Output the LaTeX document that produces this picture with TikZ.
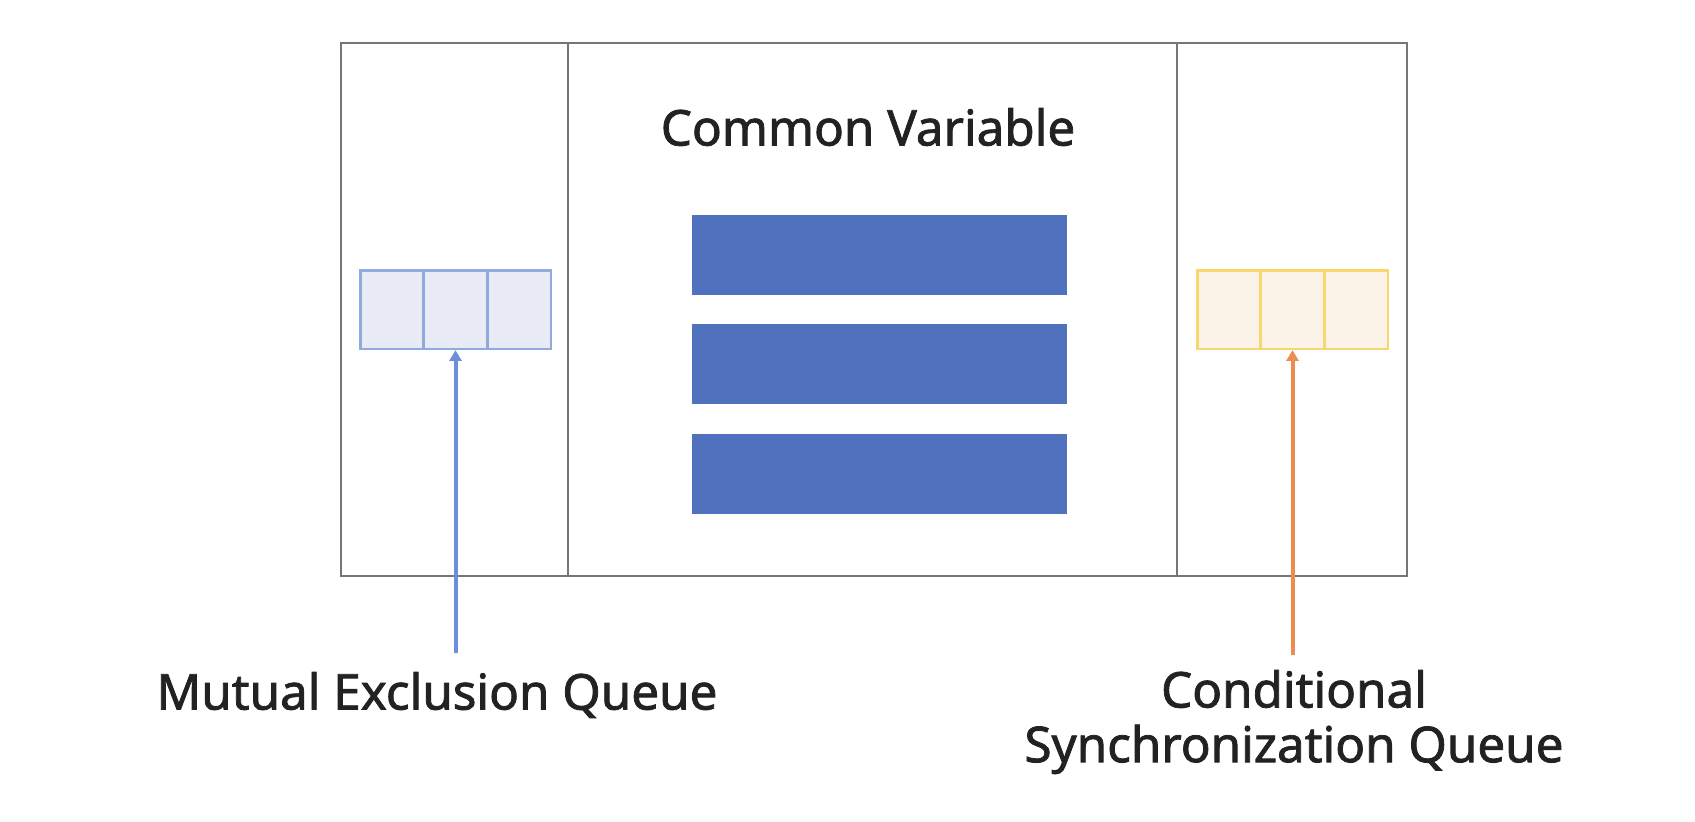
\documentclass[tikz,border=0pt]{standalone}
\usepackage{fontspec}
\setmainfont{Noto Sans}
\newfontfamily\labelfont[FakeBold=1.6]{Noto Sans}
\usetikzlibrary{arrows.meta}

\definecolor{framegray}{RGB}{118,118,118}
\definecolor{barblue}{RGB}{79,113,190}
\definecolor{mqfill}{RGB}{232,235,245}
\definecolor{mqdraw}{RGB}{143,170,220}
\definecolor{cqfill}{RGB}{252,243,232}
\definecolor{cqdraw}{RGB}{250,215,110}
\definecolor{mqarrow}{RGB}{110,142,216}
\definecolor{cqarrow}{RGB}{236,140,80}
\definecolor{labelgray}{RGB}{34,34,34}

\tikzset{
  frame/.style={draw=framegray, line width=2pt},
  bar/.style={fill=barblue, draw=none, minimum width=281.25pt, minimum height=60pt, inner sep=0pt},
  mqcell/.style={draw=mqdraw, fill=mqfill, line width=2pt, minimum width=47.75pt, minimum height=59pt, inner sep=0pt},
  cqcell/.style={draw=cqdraw, fill=cqfill, line width=2pt, minimum width=47.75pt, minimum height=59pt, inner sep=0pt},
  feed/.style={line width=3pt, -{Triangle[length=8pt, width=9pt]}},
  label/.style={text=labelgray, font=\labelfont\fontsize{37}{41}\selectfont, inner sep=0pt}
}

\begin{document}
\begin{tikzpicture}[x=0.75pt,y=0.75pt,yscale=-1,xscale=1]
        \useasboundingbox (0,0) rectangle (1695,821);

        % Monitor frame
        \draw [frame] (341,43) rectangle (1407,576) ;
        \draw [frame] (568,43) -- (568,576) ;
        \draw [frame] (1177,43) -- (1177,576) ;

        % Common variables
        \node [label] (title) at (868,127) {Common Variable};
        \node [bar] (var1) at (879.5,254.5) {};
        \node [bar] (var2) at (879.5,364) {};
        \node [bar] (var3) at (879.5,474) {};

        % Mutual exclusion queue
        \node [mqcell] (mq1) at (392,309.5) {};
        \node [mqcell] (mq2) at (455.5,309.5) {};
        \node [mqcell] (mq3) at (519,309.5) {};

        % Conditional synchronization queue
        \node [cqcell] (cq1) at (1229,309.5) {};
        \node [cqcell] (cq2) at (1292.5,309.5) {};
        \node [cqcell] (cq3) at (1356,309.5) {};

        % Labels
        \node [label] (mqlabel) at (437,695) {Mutual Exclusion Queue};
        \node [label, align=center] (cqlabel) at (1294,722) {Conditional\\Synchronization Queue};

        % Arrows
        \coordinate (mqtail) at (455.5,653);
        \coordinate (cqtail) at (1292.5,655);
        \draw [feed, mqarrow] (mqtail) -- (mq2.south) ;
        \draw [feed, cqarrow] (cqtail) -- (cq2.south) ;

\end{tikzpicture}
\end{document}
